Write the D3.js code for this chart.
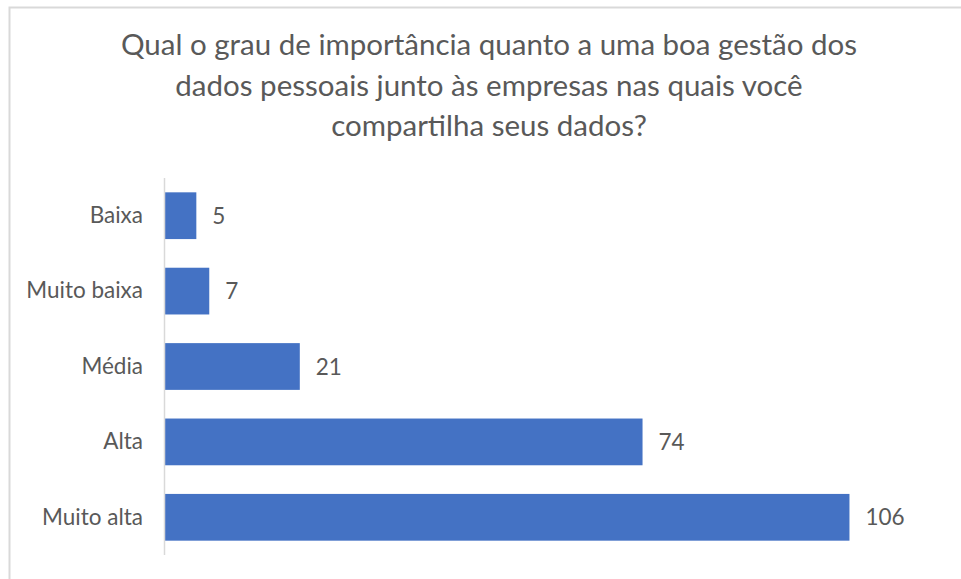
<!DOCTYPE html>
<html>
<head>
<meta charset="utf-8">
<script src="https://cdn.jsdelivr.net/npm/d3@7"></script>
<style>
  body { margin: 0; background: #fff; }
  svg text { font-family: Lato, "Open Sans", sans-serif; fill: #595959; }
</style>
</head>
<body>
<div id="chart"></div>
<script>
// data
var categories = ["Baixa", "Muito baixa", "Média", "Alta", "Muito alta"]
var values = [5, 7, 21, 74, 106]
var titleLines = [
    "Qual o grau de importância quanto a uma boa gestão dos",
    "dados pessoais junto às empresas nas quais você",
    "compartilha seus dados?"
]

var width = 961,
    height = 579

var svg = d3.select("#chart")
    .append("svg")
    .attr("width", width)
    .attr("height", height)

// light frame of the chart area (cut off at right / bottom)
svg.append("rect")
    .attr("x", 9.5)
    .attr("y", 7.5)
    .attr("width", width)
    .attr("height", height)
    .style("fill", "none")
    .style("stroke", "#d9d9d9")
    .style("stroke-width", 2)

// title
svg.append("g")
    .selectAll("text")
    .data(titleLines)
    .enter()
    .append("text")
    .attr("x", 489)
    .attr("y", function(d, i) { return 55 + i * 40.5 })
    .attr("text-anchor", "middle")
    .style("font-size", "29.5px")
    .text(function(d) { return d })

// scales
var x = d3.scaleLinear()
    .domain([0, 120])
    .range([164, 940])

var y = d3.scaleBand()
    .domain(categories)
    .range([178, 555])
    .paddingInner(0.38)
    .paddingOuter(0.19)

// bars
svg.append("g")
    .selectAll("rect")
    .data(values)
    .enter()
    .append("rect")
    .attr("x", x(0))
    .attr("y", function(d, i) { return y(categories[i]) })
    .attr("width", function(d) { return x(d) - x(0) })
    .attr("height", y.bandwidth())
    .style("fill", "#4472c4")

// value labels
svg.append("g")
    .selectAll("text")
    .data(values)
    .enter()
    .append("text")
    .attr("x", function(d) { return x(d) + 16 })
    .attr("y", function(d, i) { return y(categories[i]) + y.bandwidth() / 2 })
    .attr("dy", "0.36em")
    .style("font-size", "22.5px")
    .text(function(d) { return d })

// category axis
var yAxis = svg.append("g")
    .attr("transform", "translate(" + x(0) + ",0)")
    .call(d3.axisLeft(y).tickSize(0).tickPadding(21))

yAxis.select(".domain")
    .attr("d", "M0.5," + 178 + "V" + 555)
    .style("stroke", "#d9d9d9")
    .style("stroke-width", 1.5)

yAxis.selectAll("text")
    .style("font-size", "22.5px")
    .style("font-family", null)
    .attr("fill", null)
</script>
</body>
</html>
